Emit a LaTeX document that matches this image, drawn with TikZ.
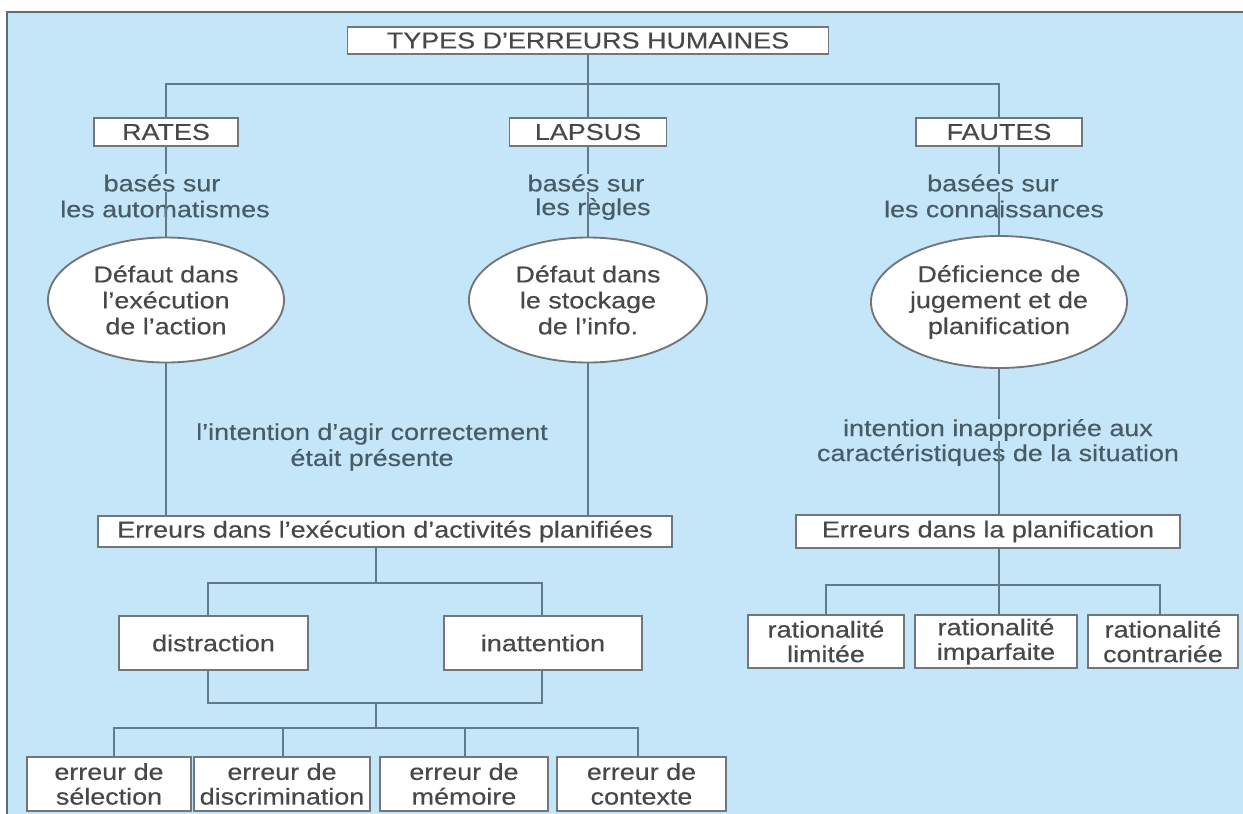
\documentclass[tikz,border=0pt]{standalone}
\usepackage{fontspec}
\setmainfont{Liberation Sans}[FakeStretch=1.17, FakeBold=0.35]
\usetikzlibrary{shapes.geometric}
\definecolor{bgblue}{RGB}{197,230,248}
\definecolor{framegray}{RGB}{95,108,115}
\definecolor{wire}{RGB}{96,122,136}
\definecolor{boxline}{RGB}{112,118,122}
\definecolor{ink}{RGB}{72,72,72}
\definecolor{noteink}{RGB}{72,92,104}
\begin{document}
\begin{tikzpicture}[x=0.75pt,y=-0.75pt,
  every node/.style={font=\fontsize{17.25}{19.5}\selectfont, inner sep=0pt},
  wh/.style 2 args={minimum width=#1*0.75pt, minimum height=#2*0.75pt},
  box/.style={draw=boxline, line width=1.4pt, fill=white, text=ink, align=center,
    font=\fontsize{17.25}{18.5}\selectfont},
  oval/.style={ellipse, draw=boxline, line width=1.4pt, fill=white, text=ink, align=center,
    font=\fontsize{17.25}{19.5}\selectfont},
  note/.style={text=noteink, align=center},
  wire/.style={draw=wire, line width=1.5pt}]

% page, tinted panel and its frame
\useasboundingbox (0,0) rectangle (1243,814);
\fill[white] (0,0) rectangle (1243,814);
\fill[bgblue] (7,12) rectangle (1243,814);
\draw[framegray, line width=2.2pt] (7,814) -- (7,12) -- (1243,12);

% top level
\node[box, wh={481}{27}] (title) at (588,40.5) {TYPES D'ERREURS HUMAINES};
\node[box, wh={144}{28}] (rates)  at (166,132) {RATES};
\node[box, wh={157}{28}] (lapsus) at (588,132) {LAPSUS};
\node[box, wh={166}{28}] (fautes) at (999,132) {FAUTES};
\coordinate (jtop) at (588,84);
\draw[wire] (title.south) -- (lapsus.north);
\draw[wire] (rates.north) |- (jtop) -| (fautes.north);

% bases of each category
\node[note] (ra1) at (162,183) {basés sur};
\node[note] (ra2) at (165,209) {les automatismes};
\node[note] (la1) at (586,183) {basés sur};
\node[note] (la2) at (593,209) {les règles};
\node[note] (fa1) at (993,183) {basées sur};
\node[note] (fa2) at (994,209) {les connaissances};

% ellipses
\node[oval, wh={236}{125}] (e1) at (166,300) {Défaut dans\\l'exécution\\de l'action};
\node[oval, wh={238}{125}] (e2) at (588,300) {Défaut dans\\le stockage\\de l'info.};
\node[oval, wh={256}{132}] (e3) at (999,302) {Déficience de\\jugement et de\\planification};

\draw[wire] (rates.south) -- (rates.south |- ra1.north);
\draw[wire] (rates.south |- ra1.south) -- (e1.north);
\draw[wire] (lapsus.south) -- (lapsus.south |- la1.north);
\draw[wire] (lapsus.south |- la1.south) -- (e2.north);
\draw[wire] (fautes.south) -- (fautes.south |- fa1.north);
\draw[wire] (fautes.south |- fa1.south) -- (e3.north);

% intentions
\node[note] (int) at (372,447) {l'intention d'agir correctement\\était présente};
\node[note] (ia1) at (998,430) {intention inappropriée aux};
\node[note] (ia2) at (998,455) {caractéristiques de la situation};

% second level boxes
\node[box, wh={574}{31}] (exec) at (385,531.5) {Erreurs dans l'exécution d'activités planifiées};
\node[box, wh={384}{33}] (plan) at (988,531.5) {Erreurs dans la planification};

\draw[wire] (e1.south) -- (e1.south |- exec.north);
\draw[wire] (e2.south) -- (e2.south |- exec.north);
\draw[wire] (e3.south) -- (e3.south |- ia1.north);
\draw[wire] (e3.south |- ia1.south) -- (e3.south |- plan.north);

% distraction / inattention
\node[box, wh={189}{54}] (dist) at (213.5,643) {distraction};
\node[box, wh={198}{54}] (inat) at (543,643) {inattention};
\coordinate (ja) at (376,583);
\coordinate (da) at (208,583);
\coordinate (ia) at (542,583);
\coordinate (db) at (208,703);
\coordinate (ib) at (542,703);
\coordinate (jb) at (376,703);
\coordinate (jc) at (376,728);
\draw[wire] (exec.south -| ja) -- (ja);
\draw[wire] (da |- dist.north) -- (da) -- (ia) -- (ia |- inat.north);
\draw[wire] (da |- dist.south) -- (db) -- (ib) -- (ia |- inat.south);
\draw[wire] (jb) -- (jc);

% error kinds
\node[box, wh={164}{54}] (sel)  at (109,784)   {erreur de\\sélection};
\node[box, wh={176}{54}] (disc) at (282,784)   {erreur de\\discrimination};
\node[box, wh={168}{54}] (mem)  at (464,784)   {erreur de\\mémoire};
\node[box, wh={169}{54}] (ctx)  at (641.5,784) {erreur de\\contexte};
\coordinate (s1) at (114,728);
\coordinate (s2) at (283,728);
\coordinate (s3) at (465,728);
\coordinate (s4) at (638,728);
\draw[wire] (s1 |- sel.north) -- (s1) -- (s4) -- (s4 |- ctx.north);
\draw[wire] (s2) -- (s2 |- disc.north);
\draw[wire] (s3) -- (s3 |- mem.north);

% rationality kinds
\node[box, wh={156}{53}] (rat1) at (826,641.5)  {rationalité\\limitée};
\node[box, wh={162}{53}] (rat2) at (996,641.5)  {rationalité\\imparfaite};
\node[box, wh={150}{53}] (rat3) at (1163,641.5) {rationalité\\contrariée};
\coordinate (jp) at (999,585);
\coordinate (r1) at (826,585);
\coordinate (r3) at (1160,585);
\draw[wire] (plan.south -| jp) -- (jp) -- (jp |- rat2.north);
\draw[wire] (r1 |- rat1.north) -- (r1) -- (r3) -- (r3 |- rat3.north);
\end{tikzpicture}
\end{document}
